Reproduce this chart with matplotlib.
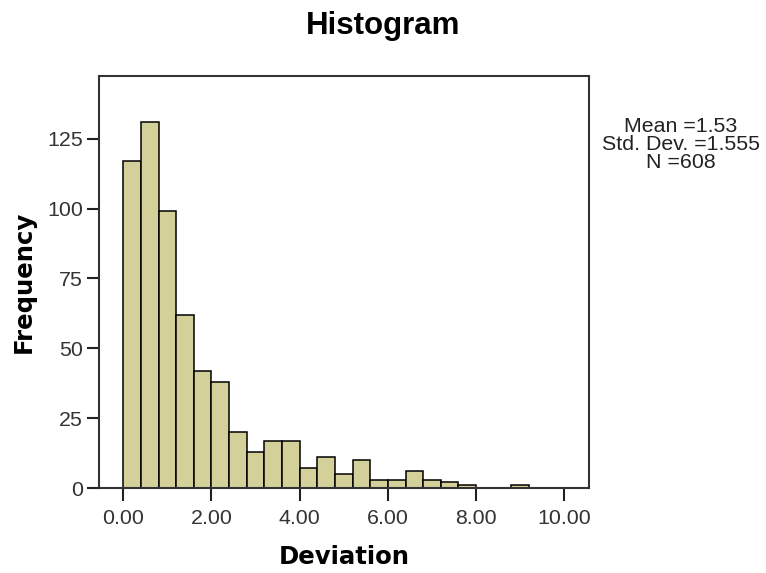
import matplotlib
matplotlib.use('Agg')
import matplotlib.pyplot as plt
import numpy as np

# bin edges (width 0.40) and counts
bin_start = 0.0
bin_width = 0.4
counts = [117, 131, 99, 62, 42, 38, 20, 13, 17, 17, 7, 11,
          5, 10, 3, 3, 6, 3, 2, 1, 0, 0, 1]
edges = bin_start + bin_width * np.arange(len(counts) + 1)

x_ticks = [0, 2, 4, 6, 8, 10]
x_ticklabels = ['0.00', '2.00', '4.00', '6.00', '8.00', '10.00']
y_ticks = [0, 25, 50, 75, 100, 125]

stats_lines = ['Mean =1.53', 'Std. Dev. =1.555', 'N =608']

fig = plt.figure(figsize=(7.66, 5.73), dpi=100)
ax = fig.add_axes([0.1286, 0.1483, 0.769 - 0.1286, 0.8665 - 0.1483])

ax.bar(edges[:-1], counts, width=bin_width, align='edge',
       color='#D4D09A', edgecolor='black', linewidth=1.1)

ax.set_xlim(-0.56, 10.56)
ax.set_ylim(0, 147.3)

ax.set_xticks(x_ticks)
ax.set_xticklabels(x_ticklabels, fontsize=15.4, family='Liberation Sans', color='#333333')
ax.set_yticks(y_ticks)
ax.set_yticklabels([str(v) for v in y_ticks], fontsize=15.4, family='Liberation Sans', color='#333333')
ax.tick_params(axis='both', direction='out', length=9, width=1.5, color='#222222', pad=2)
ax.tick_params(axis='x', pad=6)

for s in ax.spines.values():
    s.set_linewidth(1.5)
    s.set_color('#333333')

ax.set_xlabel('Deviation', fontsize=17.6, fontweight='bold', family='DejaVu Sans', labelpad=12)
ax.set_ylabel('Frequency', fontsize=17.6, fontweight='bold', family='DejaVu Sans', labelpad=8)

fig.text(0.5, 1 - 26 / 573, 'Histogram', ha='center', va='center',
         fontsize=22.5, fontweight='bold', family='Liberation Sans')

for i, line in enumerate(stats_lines):
    fig.text(681 / 766, 1 - (126 + i * 18.5) / 573, line, ha='center', va='center',
             fontsize=15.4, family='Liberation Sans', color='#222222')

plt.savefig('out.png', dpi=100)
